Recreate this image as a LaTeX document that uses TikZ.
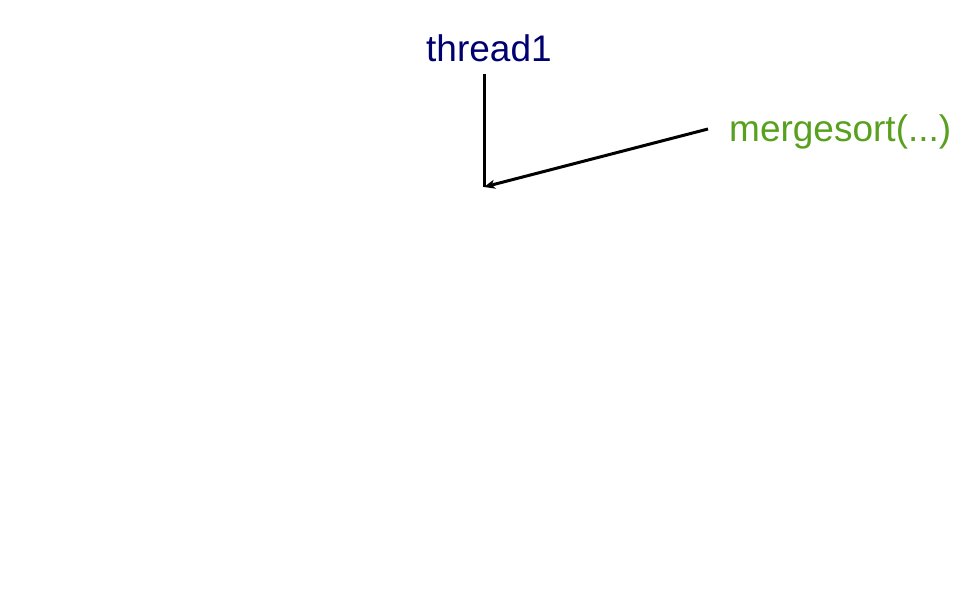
\documentclass[tikz,border=0pt]{standalone}
\usepackage{fontspec}
\setmainfont{Liberation Sans}
\usetikzlibrary{arrows.meta}
\definecolor{tnavy}{RGB}{0,0,110}
\definecolor{mgreen}{RGB}{88,160,30}
\begin{document}
\begin{tikzpicture}[x=1pt,y=1pt,
  lbl/.style={inner sep=0pt,anchor=base west,font=\fontsize{37}{44}\selectfont},
  conn/.style={line width=3pt,draw=black}]
\useasboundingbox (0,0) rectangle (973,-609);
\node[lbl,text=tnavy] (thread) at (426,-62) {thread1};
\node[lbl,text=mgreen] (merge) at (729,-142) {mergesort(...)};
\coordinate (ttop) at (484,-74);
\coordinate (corner) at (484,-187);
\coordinate (mstart) at (708,-129);
\draw[conn] (ttop) -- (corner);
\draw[conn,-{Stealth[length=11pt,width=9pt,inset=3pt]}] (mstart) -- (corner);
\end{tikzpicture}
\end{document}
